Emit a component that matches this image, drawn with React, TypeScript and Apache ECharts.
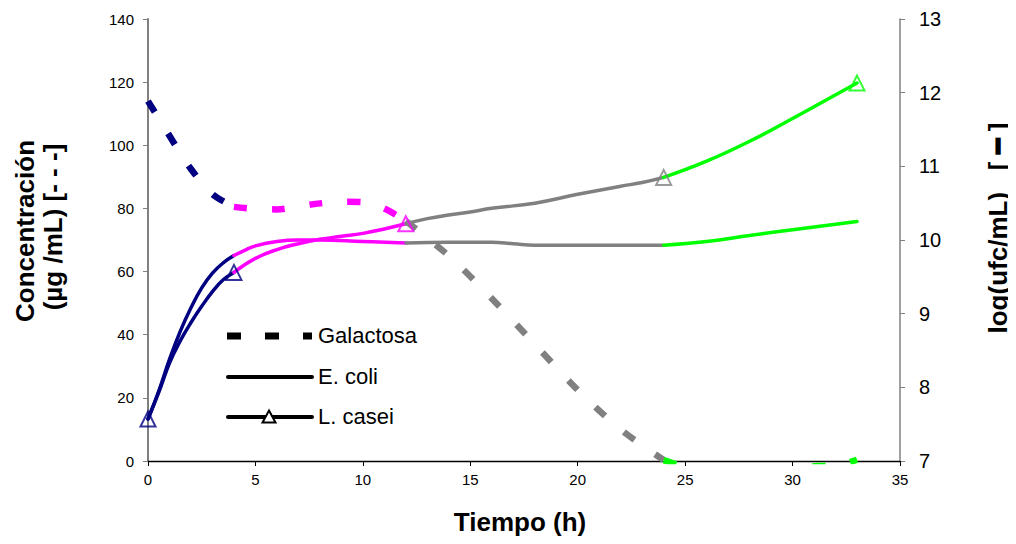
import React, { useEffect, useRef } from "react";
import * as echarts from "echarts";

// ---- Data ----
const galNavyX = [0, 1, 2, 3, 4];
const galNavyY = [114, 103, 92.5, 84.5, 80.5];
const galMagX = [4, 5, 6, 7, 8, 9, 10, 11, 12];
const galMagY = [80.5, 79.8, 79.7, 80.6, 81.6, 82.1, 82, 80, 76];
const galGrayX = [12, 14, 16, 18, 20, 22, 24];
const galGrayY = [76, 65, 51.5, 37, 22.5, 10, 0.3];
const galGreenX = [24, 24.7, 26, 28, 30, 31.2, 31.8, 33];
const galGreenY = [0.3, -1.3, -4, -5, -3, -1.6, -1.6, 0.4];

const ecNavyX = [0, 0.5, 1, 1.5, 2, 2.5, 3, 3.5, 4];
const ecNavyY = [7.57, 7.95, 8.38, 8.76, 9.08, 9.35, 9.55, 9.69, 9.79];
const ecMagX = [4, 4.5, 5, 6, 7, 8, 10, 12];
const ecMagY = [9.79, 9.86, 9.92, 9.98, 10.0, 10.0, 9.98, 9.96];
const ecGrayX = [12, 14, 16, 17, 18, 20, 24];
const ecGrayY = [9.96, 9.97, 9.97, 9.95, 9.93, 9.93, 9.93];
const ecGreenX = [24, 26, 28, 30, 33];
const ecGreenY = [9.93, 9.98, 10.06, 10.14, 10.25];

const lcNavyX = [0, 0.5, 1, 1.5, 2, 2.5, 3, 3.5, 4];
const lcNavyY = [7.57, 7.93, 8.33, 8.63, 8.88, 9.1, 9.3, 9.46, 9.56];
const lcMagX = [4, 5, 6, 7, 8, 9, 10, 11, 12];
const lcMagY = [9.56, 9.75, 9.87, 9.95, 10.01, 10.05, 10.09, 10.15, 10.22];
const lcGrayX = [12, 13, 14, 15, 16, 18, 20, 22, 23, 24];
const lcGrayY = [10.22, 10.29, 10.34, 10.38, 10.43, 10.5, 10.62, 10.73, 10.78, 10.85];
const lcGreenX = [24, 26, 28, 30, 33];
const lcGreenY = [10.85, 11.07, 11.34, 11.65, 12.13];

const xTickLabels = ["0", "5", "10", "15", "20", "25", "30", "35"];

const NAVY = "#000080";
const MAGENTA = "#FF00FF";
const GRAY = "#808080";
const GREEN = "#00FF00";
const FONT = "'Liberation Sans', Arial, sans-serif";

const zip = (xs: number[], ys: number[]) => xs.map((x, i) => [x, ys[i]]);

export default function App() {
  const ref = useRef<HTMLDivElement>(null);

  useEffect(() => {
    if (!ref.current) return;
    const chart = echarts.init(ref.current, null, { renderer: "svg" });

    const galSeries = (name: string, xs: number[], ys: number[], color: string) => ({
      name,
      type: "line",
      yAxisIndex: 0,
      data: zip(xs, ys),
      smooth: 0.3,
      symbol: "none",
      clip: true,
      lineStyle: { color, width: 6.5, type: [13, 25], cap: "butt" },
      z: 2,
    });
    const solidSeries = (name: string, xs: number[], ys: number[], color: string) => ({
      name,
      type: "line",
      yAxisIndex: 1,
      data: zip(xs, ys),
      smooth: 0.45,
      symbol: "none",
      lineStyle: { color, width: 3.5, cap: "round" },
      z: 3,
    });

    const markerSegs: [number[], number[], string][] = [
      [lcNavyX, lcNavyY, NAVY],
      [lcMagX, lcMagY, MAGENTA],
      [lcGrayX, lcGrayY, GRAY],
      [lcGreenX, lcGreenY, GREEN],
    ];
    const markerData: any[] = [];
    markerSegs.forEach(([xs, ys, c], i) => {
      if (i === 0) {
        markerData.push({ value: [xs[0], ys[0]], itemStyle: { borderColor: c } });
      }
      const last = xs.length - 1;
      const col = i === 0 ? NAVY : c;
      markerData.push({ value: [xs[last], ys[last]], itemStyle: { borderColor: col } });
    });

    const option: any = {
      animation: false,
      backgroundColor: "#ffffff",
      grid: { left: 148, right: 116, top: 19, bottom: 83, containLabel: false },
      xAxis: {
        type: "value",
        min: 0,
        max: 35,
        interval: 5,
        axisLine: { show: true, lineStyle: { color: "#000", width: 1.3 } },
        axisTick: { show: true, length: 5, lineStyle: { color: "#000" } },
        axisLabel: {
          color: "#000",
          fontSize: 15,
          fontFamily: FONT,
          margin: 11,
          formatter: (v: number) => xTickLabels[Math.round(v / 5)] ?? String(v),
        },
        splitLine: { show: false },
      },
      yAxis: [
        {
          type: "value",
          min: 0,
          max: 140,
          interval: 20,
          position: "left",
          axisLine: { show: true, lineStyle: { color: GRAY, width: 2 } },
          axisTick: { show: true, length: 5, lineStyle: { color: GRAY } },
          axisLabel: { color: "#000", fontSize: 15, fontFamily: FONT, margin: 14 },
          splitLine: { show: false },
        },
        {
          type: "value",
          min: 7,
          max: 13,
          interval: 1,
          position: "right",
          axisLine: { show: true, lineStyle: { color: GRAY, width: 1.5 } },
          axisTick: { show: true, length: 5, lineStyle: { color: GRAY } },
          axisLabel: { color: "#000", fontSize: 20, fontFamily: FONT, margin: 19 },
          splitLine: { show: false },
        },
      ],
      series: [
        galSeries("Galactosa 1", galNavyX, galNavyY, NAVY),
        galSeries("Galactosa 2", galMagX, galMagY, MAGENTA),
        galSeries("Galactosa 3", galGrayX, galGrayY, GRAY),
        galSeries("Galactosa 4", galGreenX, galGreenY, GREEN),
        solidSeries("E. coli 1", ecNavyX, ecNavyY, NAVY),
        solidSeries("E. coli 2", ecMagX, ecMagY, MAGENTA),
        solidSeries("E. coli 3", ecGrayX, ecGrayY, GRAY),
        solidSeries("E. coli 4", ecGreenX, ecGreenY, GREEN),
        solidSeries("L. casei 1", lcNavyX, lcNavyY, NAVY),
        solidSeries("L. casei 2", lcMagX, lcMagY, MAGENTA),
        solidSeries("L. casei 3", lcGrayX, lcGrayY, GRAY),
        solidSeries("L. casei 4", lcGreenX, lcGreenY, GREEN),
        {
          name: "L. casei markers",
          type: "scatter",
          yAxisIndex: 1,
          symbol: "triangle",
          symbolSize: [15, 15],
          data: markerData,
          itemStyle: { color: "rgba(0,0,0,0)", borderWidth: 2 },
          z: 4,
        },
      ],
      graphic: [
        {
          type: "line",
          shape: { x1: 227, y1: 336, x2: 312, y2: 336 },
          style: { stroke: "#000", lineWidth: 7, lineDash: [14, 24], lineCap: "butt" },
        },
        {
          type: "text",
          left: 318,
          top: 336 - 12,
          style: { text: "Galactosa", fontSize: 22, fontFamily: FONT, fill: "#000" },
        },
        {
          type: "line",
          shape: { x1: 228, y1: 377, x2: 312, y2: 377 },
          style: { stroke: "#000", lineWidth: 4, lineCap: "round" },
        },
        {
          type: "text",
          left: 318,
          top: 377 - 12,
          style: { text: "E. coli", fontSize: 22, fontFamily: FONT, fill: "#000" },
        },
        {
          type: "line",
          shape: { x1: 228, y1: 417, x2: 312, y2: 417 },
          style: { stroke: "#000", lineWidth: 4, lineCap: "round" },
        },
        {
          type: "polygon",
          shape: { points: [[269, 410.5], [275.5, 422.5], [262.5, 422.5]] },
          style: { fill: "#fff", stroke: "#000", lineWidth: 2 },
          z: 10,
        },
        {
          type: "text",
          left: 318,
          top: 417 - 12,
          style: { text: "L. casei", fontSize: 22, fontFamily: FONT, fill: "#000" },
        },
        {
          type: "text",
          x: 25,
          y: 231,
          rotation: Math.PI / 2,
          style: {
            text: "Concentración",
            fontSize: 26,
            fontWeight: "bold",
            fontFamily: FONT,
            fill: "#000",
            align: "center",
            verticalAlign: "middle",
          },
        },
        {
          type: "text",
          x: 53,
          y: 227,
          rotation: Math.PI / 2,
          style: {
            text: "(µg /mL) [- - -]",
            fontSize: 26,
            fontWeight: "bold",
            fontFamily: FONT,
            fill: "#000",
            align: "center",
            verticalAlign: "middle",
          },
        },
        {
          type: "text",
          x: 998,
          y: 228,
          rotation: Math.PI / 2,
          style: {
            text: "log(ufc/mL)   [ ━ ]",
            fontSize: 26,
            fontWeight: "bold",
            fontFamily: FONT,
            fill: "#000",
            align: "center",
            verticalAlign: "middle",
          },
        },
        {
          type: "text",
          x: 520,
          y: 522,
          style: {
            text: "Tiempo (h)",
            fontSize: 26,
            fontWeight: "bold",
            fontFamily: FONT,
            fill: "#000",
            align: "center",
            verticalAlign: "middle",
          },
        },
      ],
    };

    chart.setOption(option);
    return () => chart.dispose();
  }, []);

  return <div ref={ref} style={{ width: 1016, height: 544, margin: -8 }} />;
}
